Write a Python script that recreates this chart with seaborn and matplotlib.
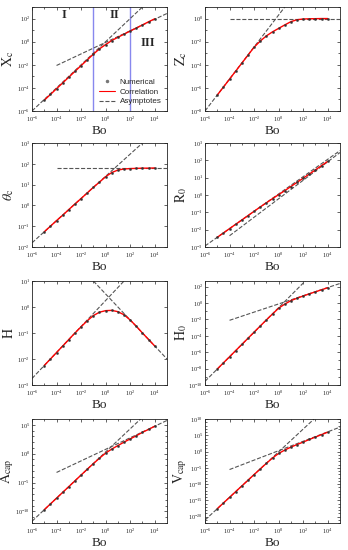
import numpy as np
import matplotlib
matplotlib.use('Agg')
import matplotlib.pyplot as plt
import seaborn as sns
from matplotlib.lines import Line2D
from matplotlib.ticker import FixedLocator, LogFormatterMathtext, NullFormatter

sns.set_style('ticks')
plt.rcParams['font.family'] = ['Liberation Serif', 'DejaVu Serif']
plt.rcParams['mathtext.fontset'] = 'stix'

# Bond number sample points (log10), shared by every panel
bo_exp = [-5.0, -4.5, -4.0, -3.5, -3.0, -2.5, -2.0, -1.5, -1.0, -0.5,
          0.0, 0.5, 1.0, 1.5, 2.0, 2.5, 3.0, 3.5, 4.0]

# log10 of each quantity
xc_exp = [-5.07, -4.57, -4.07, -3.57, -3.07, -2.57, -2.07, -1.58, -1.08, -0.62,
          -0.25, 0.10, 0.38, 0.65, 0.92, 1.18, 1.45, 1.72, 1.98]
zc_exp = [-6.62, -5.93, -5.24, -4.55, -3.86, -3.17, -2.48, -1.95, -1.50, -1.15,
          -0.85, -0.55, -0.27, -0.10, -0.04, -0.02, -0.01, 0.0, 0.0]
theta_exp = [-1.27, -1.00, -0.73, -0.47, -0.20, 0.07, 0.33, 0.60, 0.87, 1.12,
             1.38, 1.58, 1.70, 1.75, 1.77, 1.78, 1.79, 1.79, 1.80]
r0_exp = [-2.44, -2.19, -1.94, -1.69, -1.44, -1.19, -0.94, -0.69, -0.45, -0.21,
          0.02, 0.25, 0.49, 0.73, 0.97, 1.21, 1.45, 1.70, 1.94]
h_exp = [-2.25, -2.00, -1.75, -1.50, -1.25, -1.00, -0.76, -0.53, -0.33, -0.20,
         -0.14, -0.13, -0.18, -0.30, -0.50, -0.74, -1.00, -1.25, -1.50]
h0_exp = [-8.05, -7.30, -6.55, -5.80, -5.05, -4.30, -3.55, -2.80, -2.05, -1.33,
          -0.62, -0.12, 0.30, 0.60, 0.87, 1.13, 1.38, 1.63, 1.88]
acap_exp = [-9.70, -8.70, -7.70, -6.70, -5.70, -4.70, -3.70, -2.70, -1.72, -0.78,
            0.10, 0.80, 1.40, 2.00, 2.55, 3.10, 3.70, 4.20, 4.75]
vcap_exp = [-17.60, -15.85, -14.10, -12.35, -10.60, -8.85, -7.10, -5.37, -3.65, -2.00,
            -0.60, 0.45, 1.35, 2.15, 2.90, 3.70, 4.45, 5.20, 5.95]

# asymptote end points (log10 Bo, log10 value)
xc_asym = [([-6, 3], [-6, 3]), ([-4, 5], [-2.06, 2.44])]
zc_asym = [([-6, 0.5], [-8, 1]), ([-4, 5], [0, 0])]
theta_asym = [([-6, 3], [-1.8, 3]), ([-4, 5], [1.8, 1.8])]
r0_asym = [([-6, 5], [-2.94, 2.56]), ([-4, 5], [-2.35, 2.45])]
h_asym = [([-6, 1.5], [-2.75, 1.0]), ([-1, 5], [1.0, -2.0])]
h0_asym = [([-6, 2.17], [-9.55, 2.7]), ([-4, 5], [-2.1, 2.4])]
acap_asym = [([-6, 2.85], [-11.7, 6.0]), ([-4, 5], [-3.25, 5.75])]
vcap_asym = [([-6, 2.886], [-21.1, 10.0]), ([-4, 5], [-5.55, 7.5])]

# regime boundaries in the X_c panel
regime_bo = [0.1, 100]

panels = [
    (r'$\mathrm{X}_\mathrm{c}$', xc_exp, xc_asym, (-6, 3), [-6, -4, -2, 0, 2]),
    (r'$\mathrm{Z}_\mathrm{c}$', zc_exp, zc_asym, (-8, 1), [-8, -6, -4, -2, 0]),
    (r'$\theta_\mathrm{c}$', theta_exp, theta_asym, (-2, 3), [-2, -1, 0, 1, 2, 3]),
    (r'$\mathrm{R}_0$', r0_exp, r0_asym, (-3, 3), [-3, -2, -1, 0, 1, 2, 3]),
    (r'$\mathrm{H}$', h_exp, h_asym, (-3, 1), [-3, -2, -1, 0, 1]),
    (r'$\mathrm{H}_0$', h0_exp, h0_asym, (-10, 2.7), [-10, -8, -6, -4, -2, 0, 2]),
    (r'$\mathrm{A}_\mathrm{cap}$', acap_exp, acap_asym, (-12, 6), [-10, -5, 0, 5]),
    (r'$\mathrm{V}_\mathrm{cap}$', vcap_exp, vcap_asym, (-22, 10), [-20, -15, -10, -5, 0, 5, 10]),
]

W, H = 348, 550
fig = plt.figure(figsize=(W / 100, H / 100), dpi=100)
col_left = [32, 205]
row_top = [7, 143, 281, 419]
ax_w, ax_h = 135, 104

bo = [10.0 ** e for e in bo_exp]

for i, (ylab, yexp, asym, ylim, yt) in enumerate(panels):
    r, c = divmod(i, 2)
    ax = fig.add_axes([col_left[c] / W, 1 - (row_top[r] + ax_h) / H, ax_w / W, ax_h / H])
    ax.set_xscale('log')
    ax.set_yscale('log')
    yv = [10.0 ** e for e in yexp]

    for ax_x, ax_y in asym:
        sns.lineplot(x=[10.0 ** e for e in ax_x], y=[10.0 ** e for e in ax_y],
                     color='#555555', linestyle='--', lw=0.8, ax=ax, zorder=2)
    sns.lineplot(x=bo, y=yv, color='red', lw=1.0, ax=ax, zorder=3)
    sns.scatterplot(x=bo, y=yv, s=3, color='#333333', edgecolor=None, ax=ax, zorder=4)

    ax.set_xlim(1e-6, 1e5)
    ax.set_ylim(10.0 ** ylim[0], 10.0 ** ylim[1])
    ax.xaxis.set_major_locator(FixedLocator([10.0 ** k for k in [-6, -4, -2, 0, 2, 4]]))
    ax.xaxis.set_minor_locator(FixedLocator([10.0 ** k for k in [-5, -3, -1, 1, 3]]))
    ax.yaxis.set_major_locator(FixedLocator([10.0 ** k for k in yt]))
    step = yt[1] - yt[0]
    if step > 1:
        ax.yaxis.set_minor_locator(FixedLocator([10.0 ** k for k in range(int(ylim[0]), int(ylim[1]) + 1)]))
    else:
        ax.yaxis.set_minor_locator(FixedLocator([]))
    ax.xaxis.set_major_formatter(LogFormatterMathtext())
    ax.yaxis.set_major_formatter(LogFormatterMathtext())
    ax.xaxis.set_minor_formatter(NullFormatter())
    ax.yaxis.set_minor_formatter(NullFormatter())
    ax.tick_params(which='both', direction='in', top=True, right=True,
                   labelsize=4.5, pad=1.5, width=0.5)
    ax.tick_params(axis='x', which='major', pad=2.8)
    ax.tick_params(which='major', length=2.5)
    ax.tick_params(which='minor', length=1.2)
    for sp in ax.spines.values():
        sp.set_linewidth(0.6)
        sp.set_color('#222222')
    ax.set_xlabel('Bo', fontsize=9.5, labelpad=0.5)
    ax.set_ylabel(ylab, fontsize=10, labelpad=1)
    ax.yaxis.set_label_coords(-0.115, 0.5)

    if i == 0:
        for b in regime_bo:
            ax.axvline(b, color='#8888ee', lw=1.0, zorder=1)
        ax.text(10 ** -3.4, 10 ** 2.3, 'I', fontsize=9, fontweight='bold', ha='center', va='center')
        ax.text(10 ** 0.7, 10 ** 2.3, 'II', fontsize=9, fontweight='bold', ha='center', va='center')
        ax.text(10 ** 3.4, 10 ** -0.1, 'III', fontsize=9, fontweight='bold', ha='center', va='center')
        handles = [
            Line2D([], [], marker='.', color='#777777', ls='none', ms=3),
            Line2D([], [], color='red', lw=0.8),
            Line2D([], [], color='#555555', ls='--', lw=0.8),
        ]
        ax.legend(handles, ['Numerical', 'Correlation', 'Asymptotes'], loc='lower right',
                  frameon=False, prop={'family': 'Liberation Sans', 'size': 5.8},
                  handlelength=2.0, handletextpad=0.5, labelspacing=0.25,
                  borderaxespad=0.3)

fig.savefig('out.png', dpi=100)
